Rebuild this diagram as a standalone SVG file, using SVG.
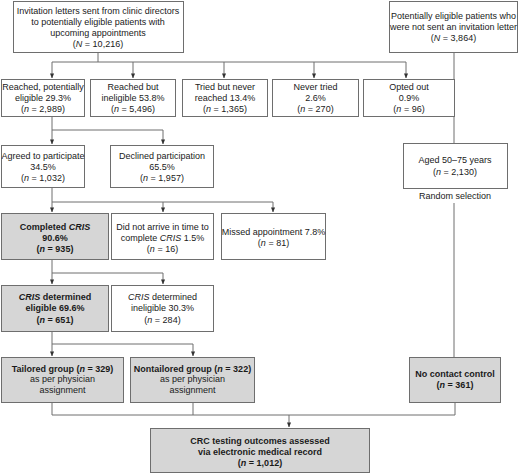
<svg xmlns="http://www.w3.org/2000/svg" width="520" height="474" viewBox="0 0 520 474">
<defs>
<style>
.b{fill:#fff;stroke:#6e6e6e;stroke-width:1}
.g{fill:#d6d6d6;stroke:#6e6e6e;stroke-width:1}
text{font-family:"Liberation Sans",Arial,sans-serif;font-size:9px;fill:#1a1a1a;text-anchor:middle}
.bd{font-weight:bold}
.c{fill:none;stroke:#6e6e6e;stroke-width:1}
</style>
<marker id="ah" viewBox="0 0 6 6" refX="5.5" refY="3" markerWidth="5" markerHeight="5" orient="auto" markerUnits="userSpaceOnUse">
<path d="M0,0.5 L6,3 L0,5.5 z" fill="#333"/>
</marker>
</defs>
<rect width="520" height="474" fill="#fff"/>
<g id="connectors" class="c">
<path d="M98,53V62M52,62H406"/>
<path d="M52,62V78" marker-end="url(#ah)"/>
<path d="M133,62V78" marker-end="url(#ah)"/>
<path d="M224,62V78" marker-end="url(#ah)"/>
<path d="M314,62V78" marker-end="url(#ah)"/>
<path d="M406,62V78" marker-end="url(#ah)"/>
<path d="M52,117V130H163"/>
<path d="M52,130V144" marker-end="url(#ah)"/>
<path d="M163,130V144" marker-end="url(#ah)"/>
<path d="M52,188V202H273"/>
<path d="M52,202V212" marker-end="url(#ah)"/>
<path d="M163,202V212" marker-end="url(#ah)"/>
<path d="M273,202V212" marker-end="url(#ah)"/>
<path d="M52,260V273H163"/>
<path d="M52,273V284" marker-end="url(#ah)"/>
<path d="M163,273V284" marker-end="url(#ah)"/>
<path d="M52,332V344H193"/>
<path d="M52,344V356" marker-end="url(#ah)"/>
<path d="M193,344V356" marker-end="url(#ah)"/>
<path d="M454,53V143"/>
<path d="M454,203V357"/>
<path d="M52,403V415H455M193,403V415M455,403V415"/>
<path d="M289,415V427" marker-end="url(#ah)"/>
</g>
<g id="invitations">
<rect class="b" x="13.5" y="1.5" width="170" height="51"/>
<text x="98" y="14">Invitation letters sent from clinic directors</text>
<text x="98" y="25">to potentially eligible patients with</text>
<text x="98" y="36">upcoming appointments</text>
<text x="98" y="47">(<tspan font-style="italic">N</tspan> = 10,216)</text>
</g>
<g id="not-sent">
<rect class="b" x="389.5" y="1.5" width="128" height="51"/>
<text x="453.5" y="19">Potentially eligible patients who</text>
<text x="453.5" y="30">were not sent an invitation letter</text>
<text x="453.5" y="41">(<tspan font-style="italic">N</tspan> = 3,864)</text>
</g>
<g id="reached-eligible">
<rect class="b" x="1.5" y="79.5" width="83" height="37"/>
<text x="43" y="90">Reached, potentially</text>
<text x="43" y="101">eligible 29.3%</text>
<text x="43" y="112">(<tspan font-style="italic">n</tspan> = 2,989)</text>
</g>
<g id="reached-ineligible">
<rect class="b" x="90.5" y="79.5" width="85" height="37"/>
<text x="133" y="90">Reached but</text>
<text x="133" y="101">ineligible 53.8%</text>
<text x="133" y="112">(<tspan font-style="italic">n</tspan> = 5,496)</text>
</g>
<g id="never-reached">
<rect class="b" x="182.5" y="79.5" width="85" height="37"/>
<text x="225" y="90">Tried but never</text>
<text x="225" y="101">reached 13.4%</text>
<text x="225" y="112">(<tspan font-style="italic">n</tspan> = 1,365)</text>
</g>
<g id="never-tried">
<rect class="b" x="272.5" y="79.5" width="86" height="37"/>
<text x="315.5" y="90">Never tried</text>
<text x="315.5" y="101">2.6%</text>
<text x="315.5" y="112">(<tspan font-style="italic">n</tspan> = 270)</text>
</g>
<g id="opted-out">
<rect class="b" x="363.5" y="79.5" width="91" height="37"/>
<text x="409" y="90">Opted out</text>
<text x="409" y="101">0.9%</text>
<text x="409" y="112">(<tspan font-style="italic">n</tspan> = 96)</text>
</g>
<g id="agreed">
<rect class="b" x="1.5" y="145.5" width="83" height="42"/>
<text x="43" y="159">Agreed to participate</text>
<text x="43" y="170">34.5%</text>
<text x="43" y="181">(<tspan font-style="italic">n</tspan> = 1,032)</text>
</g>
<g id="declined">
<rect class="b" x="110.5" y="145.5" width="103" height="42"/>
<text x="162" y="159">Declined participation</text>
<text x="162" y="170">65.5%</text>
<text x="162" y="181">(<tspan font-style="italic">n</tspan> = 1,957)</text>
</g>
<g id="aged">
<rect class="b" x="403.5" y="143.5" width="104" height="45"/>
<text x="455" y="163">Aged 50–75 years</text>
<text x="455" y="175">(<tspan font-style="italic">n</tspan> = 2,130)</text>
<text x="455" y="199">Random selection</text>
</g>
<g id="completed">
<rect class="g" x="1.5" y="213.5" width="107" height="46"/>
<text class="bd" x="55" y="230">Completed <tspan font-style="italic">CRIS</tspan></text>
<text class="bd" x="55" y="241">90.6%</text>
<text class="bd" x="55" y="252">(<tspan font-style="italic">n</tspan> = 935)</text>
</g>
<g id="did-not-arrive">
<rect class="b" x="111.5" y="213.5" width="102" height="46"/>
<text x="162.5" y="230">Did not arrive in time to</text>
<text x="162.5" y="241">complete <tspan font-style="italic">CRIS</tspan> 1.5%</text>
<text x="162.5" y="252">(<tspan font-style="italic">n</tspan> = 16)</text>
</g>
<g id="missed">
<rect class="b" x="221.5" y="213.5" width="104" height="46"/>
<text x="273.5" y="235">Missed appointment 7.8%</text>
<text x="273.5" y="246">(<tspan font-style="italic">n</tspan> = 81)</text>
</g>
<g id="cris-eligible">
<rect class="g" x="1.5" y="285.5" width="107" height="46"/>
<text class="bd" x="55" y="300"><tspan font-style="italic">CRIS</tspan> determined</text>
<text class="bd" x="55" y="311">eligible 69.6%</text>
<text class="bd" x="55" y="323">(<tspan font-style="italic">n</tspan> = 651)</text>
</g>
<g id="cris-ineligible">
<rect class="b" x="111.5" y="285.5" width="102" height="46"/>
<text x="162.5" y="300"><tspan font-style="italic">CRIS</tspan> determined</text>
<text x="162.5" y="311">ineligible 30.3%</text>
<text x="162.5" y="323">(<tspan font-style="italic">n</tspan> = 284)</text>
</g>
<g id="tailored">
<rect class="g" x="1.5" y="357.5" width="122" height="45"/>
<text class="bd" x="62.5" y="372">Tailored group (<tspan font-style="italic">n</tspan> = 329)</text>
<text x="62.5" y="382">as per physician</text>
<text x="62.5" y="393">assignment</text>
</g>
<g id="nontailored">
<rect class="g" x="130.5" y="357.5" width="124" height="45"/>
<text class="bd" x="192.5" y="372">Nontailored group (<tspan font-style="italic">n</tspan> = 322)</text>
<text x="192.5" y="382">as per physician</text>
<text x="192.5" y="393">assignment</text>
</g>
<g id="no-contact">
<rect class="g" x="409.5" y="357.5" width="91" height="45"/>
<text class="bd" x="455" y="377">No contact control</text>
<text class="bd" x="455" y="388">(<tspan font-style="italic">n</tspan> = 361)</text>
</g>
<g id="outcomes">
<rect class="g" x="150.5" y="428.5" width="219" height="44"/>
<text class="bd" x="260" y="444">CRC testing outcomes assessed</text>
<text class="bd" x="260" y="455">via electronic medical record</text>
<text class="bd" x="260" y="466">(<tspan font-style="italic">n</tspan> = 1,012)</text>
</g>
</svg>
